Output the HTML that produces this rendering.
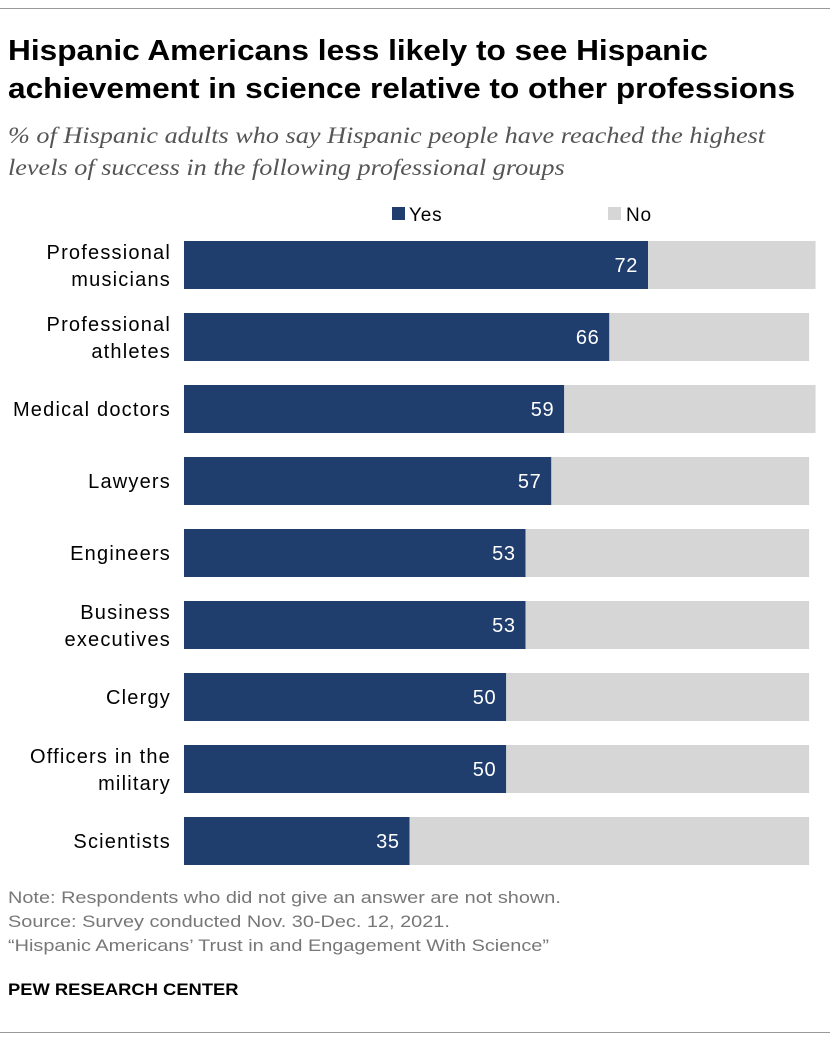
<!DOCTYPE html>
<html><head><meta charset="utf-8"><style>
body{margin:0;background:#fff;width:840px;height:1042px;overflow:hidden;font-family:"Liberation Sans",sans-serif;position:relative}
.t{position:absolute;left:8px;top:32px;font-size:29px;font-weight:bold;line-height:38px;color:#000;transform:scaleX(1.09);transform-origin:0 0;white-space:nowrap}
.s{position:absolute;left:8px;top:120px;font-family:"Liberation Serif",serif;font-style:italic;font-size:23px;line-height:32px;color:#555;transform:scaleX(1.14);transform-origin:0 0;white-space:nowrap}
.n{position:absolute;left:8px;top:886px;font-size:17px;line-height:24px;color:#777;transform:scaleX(1.17);transform-origin:0 0;white-space:nowrap}
.p{position:absolute;left:8px;top:980px;font-size:17px;font-weight:bold;color:#000;transform:scaleX(1.08);transform-origin:0 0;white-space:nowrap}
.rule{position:absolute;left:0;width:830px;height:1px;background:#999}
</style></head><body>
<div class="rule" style="top:8px"></div>
<div class="t">Hispanic Americans less likely to see Hispanic<br>achievement in science relative to other professions</div>
<div class="s">% of Hispanic adults who say Hispanic people have reached the highest<br>levels of success in the following professional groups</div>
<svg id="c" width="840" height="880" style="position:absolute;left:0;top:0"></svg>
<div class="n">Note: Respondents who did not give an answer are not shown.<br>Source: Survey conducted Nov. 30-Dec. 12, 2021.<br>“Hispanic Americans’ Trust in and Engagement With Science”</div>
<div class="p">PEW RESEARCH CENTER</div>
<div class="rule" style="top:1032px"></div>
<script>
const categories=[["Professional","musicians"],["Professional","athletes"],["Medical doctors"],["Lawyers"],["Engineers"],["Business","executives"],["Clergy"],["Officers in the","military"],["Scientists"]];
const yesValues=[72,66,59,57,53,53,50,50,35];
const noValues=[26,31,39,40,44,44,47,47,62];
const NS="http://www.w3.org/2000/svg";
const svg=document.getElementById('c');
const x0=184,scale=464/72;
const xs=v=>v*scale;
const yc=i=>265+i*72;
const bh=48;
function el(t,a){const e=document.createElementNS(NS,t);for(const k in a)e.setAttribute(k,a[k]);svg.appendChild(e);return e;}
let r=el('rect',{x:392,y:207,width:13,height:13,fill:'#1f3e6e'});


let t=el('text',{x:409,y:221,'font-size':19,'letter-spacing':0.8,fill:'#000'});t.textContent='Yes';


r=el('rect',{x:608,y:207,width:13,height:13,fill:'#d6d6d6'});


t=el('text',{x:626,y:221,'font-size':19,'letter-spacing':0.8,fill:'#000'});t.textContent='No';


categories.forEach((c,i)=>{
  const y=yc(i);
  const wy=xs(yesValues[i]),wn=xs(noValues[i]);
  const b1=el('rect',{x:x0,y:y-bh/2,width:wy,height:bh,fill:'#1f3e6e'});
  
  
  const b2=el('rect',{x:x0+wy,y:y-bh/2,width:wn,height:bh,fill:'#d6d6d6'});
  
  
  const v=el('text',{x:x0+wy-10,y:y+7,'font-size':20,'letter-spacing':0.6,fill:'#fff','text-anchor':'end'});
  v.textContent=yesValues[i];
  
  
  const lb=el('text',{x:171,'font-size':20,'letter-spacing':1.2,fill:'#000','text-anchor':'end'});
  
  
  const start=c.length===1?y+7:y-6;
  c.forEach((line,j)=>{const ts=document.createElementNS(NS,'tspan');ts.setAttribute('x',171);ts.setAttribute('y',start+j*27);ts.textContent=line;lb.appendChild(ts);});
});
</script>
</body></html>
